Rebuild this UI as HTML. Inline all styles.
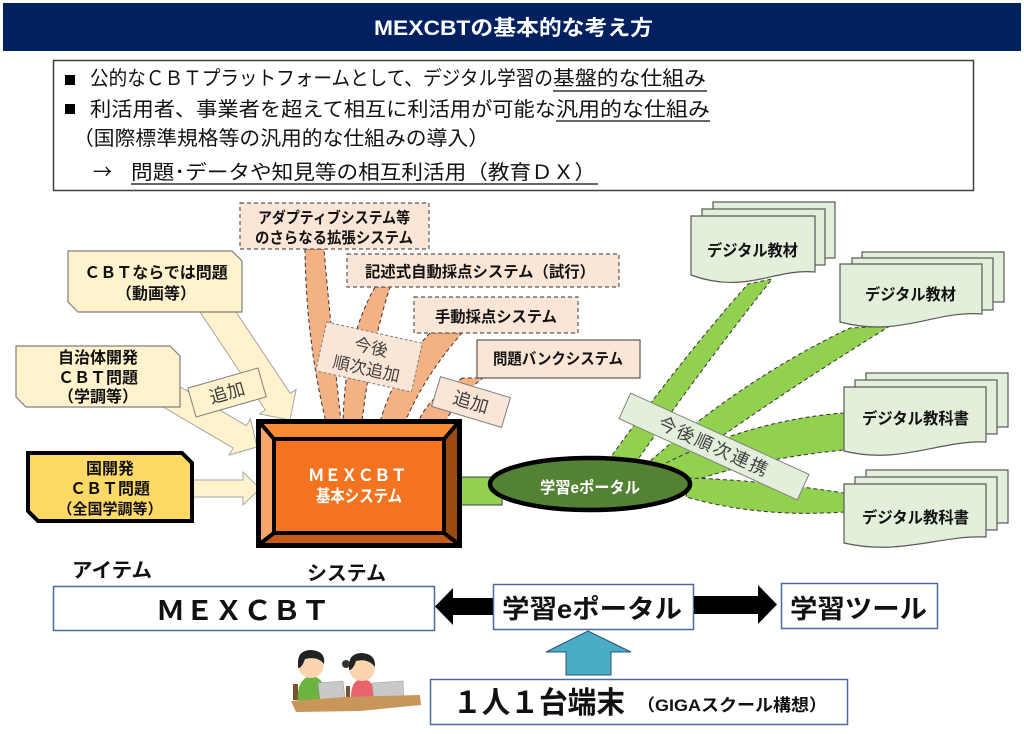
<!DOCTYPE html>
<html><head><meta charset="utf-8"><style>
html,body{margin:0;padding:0;background:#fff;}
svg{display:block;}
text{font-family:"Liberation Sans","Noto Sans CJK JP",sans-serif;}
.b{font-weight:bold;}
</style></head><body>
<svg width="1024" height="734" viewBox="0 0 1024 734" xmlns="http://www.w3.org/2000/svg">
<!-- title -->
<rect x="3" y="3" width="1018" height="48" fill="#002060"/>
<text x="374" y="35" class="b" font-size="21" fill="#fff" textLength="279" lengthAdjust="spacingAndGlyphs">MEXCBTの基本的な考え方</text>

<!-- text box -->
<rect x="53.5" y="60.5" width="920" height="130" fill="#fff" stroke="#404040" stroke-width="1.5"/>
<rect x="65" y="75" width="10" height="10" fill="#000"/>
<rect x="65" y="104" width="10" height="10" fill="#000"/>
<g font-size="20" fill="#111">
<text x="90" y="85" textLength="463" lengthAdjust="spacingAndGlyphs">公的なＣＢＴプラットフォームとして、デジタル学習の</text>
<text x="553" y="85" textLength="153" lengthAdjust="spacingAndGlyphs">基盤的な仕組み</text>
<text x="90" y="116" textLength="466" lengthAdjust="spacingAndGlyphs">利活用者、事業者を超えて相互に利活用が可能な</text>
<text x="556" y="116" textLength="154" lengthAdjust="spacingAndGlyphs">汎用的な仕組み</text>
<text x="73" y="145" textLength="416" lengthAdjust="spacingAndGlyphs">（国際標準規格等の汎用的な仕組みの導入）</text>
<text x="93" y="179" style="font-family:'Noto Sans CJK JP',sans-serif" font-size="20" textLength="19" lengthAdjust="spacingAndGlyphs">→</text>
<text x="131" y="179" textLength="465" lengthAdjust="spacingAndGlyphs">問題･データや知見等の相互利活用（教育ＤＸ）</text>
</g>
<g stroke="#333" stroke-width="1.5">
<line x1="553" y1="91" x2="707" y2="91"/>
<line x1="556" y1="121" x2="710" y2="121"/>
<line x1="131" y1="184" x2="598" y2="184"/>
</g>

<!-- green bands -->
<g fill="#92d050" stroke="#333" stroke-width="1" stroke-dasharray="4 3">
<path d="M600,472 Q680,360 748,284 L772,279 Q700,370 632,468 Z"/>
<path d="M640,470 Q740,380 850,328 L890,326 Q770,400 672,472 Z"/>
<path d="M660,466 Q750,420 844,413 L844,450 Q760,458 690,482 Z"/>
<path d="M688,478 Q760,480 844,493 L844,512 Q760,518 686,497 Z"/>
</g>

<!-- digital boxes -->
<g fill="#e2efda" stroke="#595959" stroke-width="1.2">
<rect x="713" y="202" width="122" height="56"/>
<rect x="702" y="209" width="123" height="56"/>
<path d="M691,216 H815 V272 C775,268 745,295 691,275 Z"/>

<rect x="862" y="252" width="142" height="50"/>
<rect x="852" y="258" width="141" height="52"/>
<path d="M840,264 H982 V314 C935,310 900,338 840,322 Z"/>

<rect x="866" y="373" width="142" height="54"/>
<rect x="855" y="380" width="142" height="54"/>
<path d="M844,387 H986 V442 C940,440 900,465 844,451 Z"/>

<rect x="866" y="470" width="142" height="53"/>
<rect x="855" y="477" width="142" height="53"/>
<path d="M844,484 H986 V537 C940,535 900,556 844,543 Z"/>
</g>
<g class="b" font-size="16" fill="#111" font-weight="bold">
<text x="707" y="256" textLength="91" lengthAdjust="spacingAndGlyphs">デジタル教材</text>
<text x="865" y="300" textLength="91" lengthAdjust="spacingAndGlyphs">デジタル教材</text>
<text x="862" y="424" textLength="107" lengthAdjust="spacingAndGlyphs">デジタル教科書</text>
<text x="862" y="523" textLength="107" lengthAdjust="spacingAndGlyphs">デジタル教科書</text>
</g>

<!-- 今後順次連携 label -->
<g transform="rotate(24.5 714 446.5)">
<rect x="616" y="432.5" width="196" height="28" fill="#e2efda" stroke="#7f7f7f" stroke-width="1"/>
<text x="714" y="453" font-size="18" fill="#404040" text-anchor="middle" letter-spacing="2">今後順次連携</text>
</g>

<!-- orange bands -->
<g fill="#f4b183" stroke="#333" stroke-width="1" stroke-dasharray="4 3">
<path d="M305,249 Q306,340 326,422 L341,422 Q330,320 324,249 Z"/>
<path d="M375,287 Q345,340 343,422 L362,422 Q370,350 390,287 Z"/>
<path d="M430,333 Q395,370 380,422 L405,422 Q425,375 462,333 Z"/>
<path d="M463,378 Q430,395 418,422 L445,422 Q460,395 483,378 Z"/>
</g>

<!-- top system boxes -->
<g fill="#fbe5d6" stroke="#595959" stroke-width="1.2">
<rect x="240" y="203" width="189" height="46" stroke-dasharray="4 3"/>
<rect x="347" y="254" width="272" height="33" stroke-dasharray="4 3"/>
<rect x="414" y="297" width="164" height="36" stroke-dasharray="4 3"/>
<rect x="477" y="340" width="163" height="38"/>
</g>
<g font-size="15.5" fill="#111" font-weight="bold">
<text x="258" y="223" textLength="152" lengthAdjust="spacingAndGlyphs">アダプティブシステム等</text>
<text x="255" y="243" textLength="158" lengthAdjust="spacingAndGlyphs">のさらなる拡張システム</text>
<text x="365" y="277" textLength="230" lengthAdjust="spacingAndGlyphs">記述式自動採点システム（試行）</text>
<text x="435" y="322" textLength="122" lengthAdjust="spacingAndGlyphs">手動採点システム</text>
<text x="493" y="364" textLength="130" lengthAdjust="spacingAndGlyphs">問題バンクシステム</text>
</g>

<!-- 今後順次追加 label -->
<g transform="rotate(12.5 369 357)">
<rect x="320" y="332" width="98" height="50" fill="#fbe5d6" stroke="#7f7f7f" stroke-width="1" stroke-dasharray="3 2"/>
<text x="369" y="353" font-size="17" fill="#404040" text-anchor="middle">今後</text>
<text x="369" y="375" font-size="17" fill="#404040" text-anchor="middle">順次追加</text>
</g>
<g transform="rotate(16.7 471 402)">
<rect x="434.5" y="386.5" width="73" height="31" fill="#fbe5d6" stroke="#7f7f7f" stroke-width="1"/>
<text x="471" y="408.5" font-size="18" fill="#404040" text-anchor="middle">追加</text>
</g>

<!-- left arrows -->
<g fill="#fff2cc" stroke="#a6a6a6" stroke-width="1">
<polygon points="222.5,291.7 290.3,393.4 296.1,389.5 290,420 259.5,413.9 265.3,410 197.5,308.3"/>
<polygon points="171.6,381.8 246.4,425.7 250.4,418.8 257,447 229.2,455 233.2,448.1 158.4,404.2"/>
<polygon points="190,480 243,480 243,472 260,488.5 243,505 243,497 190,497"/>
</g>

<!-- left boxes -->
<path d="M68,251 H232 L242,261 V312 H78 L68,302 Z" fill="#fff2cc" stroke="#7f7f7f" stroke-width="1.2"/>
<path d="M16,346 H170 L180,356 V407 H26 L16,397 Z" fill="#fff2cc" stroke="#7f7f7f" stroke-width="1.2"/>
<path d="M28,453 H182 L192,463 V521 H38 L28,511 Z" fill="#ffd966" stroke="#000" stroke-width="4"/>
<g font-size="16" fill="#111" font-weight="bold" text-anchor="middle">
<text x="156" y="278">ＣＢＴならでは問題</text>
<text x="156" y="299">（動画等）</text>
<text x="98" y="363">自治体開発</text>
<text x="98" y="383">ＣＢＴ問題</text>
<text x="98" y="402">（学調等）</text>
<text x="110" y="474">国開発</text>
<text x="110" y="494">ＣＢＴ問題</text>
<text x="110" y="514" font-size="15">（全国学調等）</text>
</g>
<g transform="rotate(-16 227 392.5)">
<rect x="190.5" y="377.5" width="73" height="30" fill="#fff2cc" stroke="#7f7f7f" stroke-width="1"/>
<text x="227" y="399" font-size="18" fill="#404040" text-anchor="middle">追加</text>
</g>

<!-- connector box-ellipse -->
<rect x="458" y="477" width="44" height="28" fill="#92d050" stroke="#404040" stroke-width="1"/>

<!-- MEXCBT 3D box -->
<rect x="256" y="419" width="206" height="129" fill="#000"/>
<polygon points="261,424 457,424 444,439 274,439" fill="#f68a35"/>
<polygon points="457,424 457,543 444,533 444,439" fill="#9b4a12"/>
<polygon points="261,543 457,543 444,533 274,533" fill="#c55a16"/>
<polygon points="261,424 274,439 274,533 261,543" fill="#f7a76a"/>
<rect x="274" y="439" width="170" height="94" fill="#f47320" stroke="#000" stroke-width="4"/>
<g stroke="#000" stroke-width="4">
<line x1="261" y1="424" x2="274" y2="439"/>
<line x1="457" y1="424" x2="444" y2="439"/>
<line x1="261" y1="543" x2="274" y2="533"/>
<line x1="457" y1="543" x2="444" y2="533"/>
</g>
<text x="308" y="481" font-size="17" fill="#fff" font-weight="bold" textLength="99" lengthAdjust="spacingAndGlyphs">ＭＥＸＣＢＴ</text>
<text x="316" y="502" font-size="17" fill="#fff" font-weight="bold" textLength="86" lengthAdjust="spacingAndGlyphs">基本システム</text>

<!-- ellipse -->
<ellipse cx="590" cy="484" rx="100" ry="26" fill="#548235" stroke="#000" stroke-width="4.5"/>
<text x="540" y="493" font-size="16" fill="#fff" font-weight="bold" textLength="100" lengthAdjust="spacingAndGlyphs">学習eポータル</text>

<!-- bottom section -->
<text x="72" y="577" font-size="20" font-weight="bold" fill="#111" textLength="80" lengthAdjust="spacingAndGlyphs">アイテム</text>
<text x="307" y="580" font-size="20" font-weight="bold" fill="#111" textLength="79" lengthAdjust="spacingAndGlyphs">システム</text>

<rect x="53.5" y="586.5" width="381" height="44" fill="#fff" stroke="#4a6aa0" stroke-width="1.5"/>
<text x="156" y="620" font-size="27" font-weight="bold" fill="#111" textLength="174" lengthAdjust="spacingAndGlyphs">ＭＥＸＣＢＴ</text>

<polygon points="435,606.5 453,588 453,598 493,598 493,615 453,615 453,625" fill="#000"/>
<rect x="493.5" y="584.5" width="200" height="45" fill="#fff" stroke="#4a6aa0" stroke-width="1.5"/>
<text x="502" y="618" font-size="26" font-weight="bold" fill="#111" textLength="180" lengthAdjust="spacingAndGlyphs">学習eポータル</text>

<polygon points="694,596 758,596 758,585 777,604.5 758,624 758,614 694,614" fill="#000"/>
<rect x="781.5" y="583.5" width="156" height="45" fill="#fff" stroke="#4a6aa0" stroke-width="1.5"/>
<text x="790" y="618" font-size="26" font-weight="bold" fill="#111" textLength="137" lengthAdjust="spacingAndGlyphs">学習ツール</text>

<polygon points="588,631 631,652 611,652 611,675 566,675 566,652 546,652" fill="#4bacc6" stroke="#2f5070" stroke-width="1"/>

<rect x="430.5" y="679.5" width="417" height="45" fill="#fff" stroke="#4a6aa0" stroke-width="1.5"/>
<text x="453" y="713" font-size="30" font-weight="bold" fill="#111" textLength="172" lengthAdjust="spacingAndGlyphs">１人１台端末</text>
<text x="637" y="711" font-size="17" font-weight="bold" fill="#111" textLength="190" lengthAdjust="spacingAndGlyphs">（GIGAスクール構想）</text>

<!-- kids illustration -->
<g>
<rect x="293" y="684" width="5" height="16" fill="#7a5230"/>
<path d="M298,702 Q296,680 310,676 Q326,676 327,702 Z" fill="#6cb33f"/>
<circle cx="311" cy="665" r="13" fill="#fbd5b0"/>
<path d="M298,665 Q297,650 311,650 Q326,651 324,664 Q318,656 305,659 Q302,668 298,668 Z" fill="#222"/>
<polygon points="318,683 343,681 345,699 320,700" fill="#c9c9c9" stroke="#999" stroke-width="0.5"/>
<rect x="346" y="686" width="4" height="14" fill="#7a5230"/>
<path d="M351,701 Q350,680 362,679 Q376,680 377,701 Z" fill="#e9636b"/>
<circle cx="362" cy="668" r="13" fill="#fbd5b0"/>
<path d="M349,668 Q348,653 362,653 Q376,654 375,667 Q368,658 356,661 Q353,670 349,670 Z" fill="#222"/>
<circle cx="346" cy="664" r="4" fill="#333"/>
<polygon points="372,683 403,681 404,700 374,701" fill="#c9c9c9" stroke="#999" stroke-width="0.5"/>
<polygon points="291,701 345,697 420,695 421,705 360,711 296,712" fill="#c8955a"/>
</g>
</svg>
</body></html>
